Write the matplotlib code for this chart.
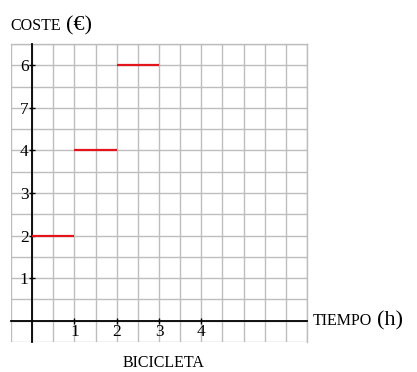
import numpy as np
import matplotlib
matplotlib.use("Agg")
import matplotlib.pyplot as plt

# data
step_start = [0, 1, 2]
step_end = [1, 2, 3]
step_cost = [2, 4, 6]
x_ticks = [1, 2, 3, 4]
x_tick_labels = ["1", "2", "3", "4"]
y_ticks = [1, 2, 3, 4, 5, 6]
y_tick_labels = ["1", "2", "3", "4", "7", "6"]

SERIF = ["Liberation Serif", "DejaVu Serif"]
plt.rcParams["font.family"] = SERIF

W, H = 417, 372
fig = plt.figure(figsize=(W / 100, H / 100), dpi=100)
ax = fig.add_axes([11 / W, (H - 342) / H, 296 / W, 298 / H])
ax.set_xlim(-0.5, 6.5)
ax.set_ylim(-0.5, 6.5)

grid_c = "#bdbdbd"
gridpos = np.arange(-0.5, 6.51, 0.5)
for g in gridpos:
    ax.axvline(g, color=grid_c, linewidth=1.0, zorder=0)
    ax.axhline(g, color=grid_c, linewidth=1.0, zorder=0)

for s in ["top", "right"]:
    ax.spines[s].set_color(grid_c)
    ax.spines[s].set_linewidth(1.0)
ax.spines["left"].set_position(("data", 0))
ax.spines["bottom"].set_position(("data", 0))
ax.spines["left"].set_linewidth(1.3)
ax.spines["bottom"].set_linewidth(1.3)
ax.spines["left"].set_zorder(3)
ax.spines["bottom"].set_zorder(3)

ax.set_xticks(x_ticks)
ax.set_xticklabels(x_tick_labels)
ax.set_yticks(y_ticks)
ax.set_yticklabels(y_tick_labels)
ax.tick_params(which="major", direction="inout", length=5, width=1.0,
               labelsize=12.5, pad=0, colors="black")

ax.hlines(step_cost, step_start, step_end, color="#e3141b", linewidth=1.6, zorder=5)

renderer = fig.canvas.get_renderer()


def label(x, y, sc, paren):
    t1 = fig.text(x / W, 1 - y / H, sc, fontsize=11.5, va="baseline", ha="left", family=SERIF)
    bb = t1.get_window_extent(renderer)
    fig.text((bb.x1 + 5) / W, 1 - y / H, paren, fontsize=16, va="baseline", ha="left", family=SERIF)


label(10, 30, "COSTE", "(€)")
label(313, 325, "TIEMPO", "(h)")
fig.text(164 / W, 1 - 367 / H, "BICICLETA", fontsize=11.5, va="baseline", ha="center", family=SERIF)

fig.savefig("out.png", dpi=100)
